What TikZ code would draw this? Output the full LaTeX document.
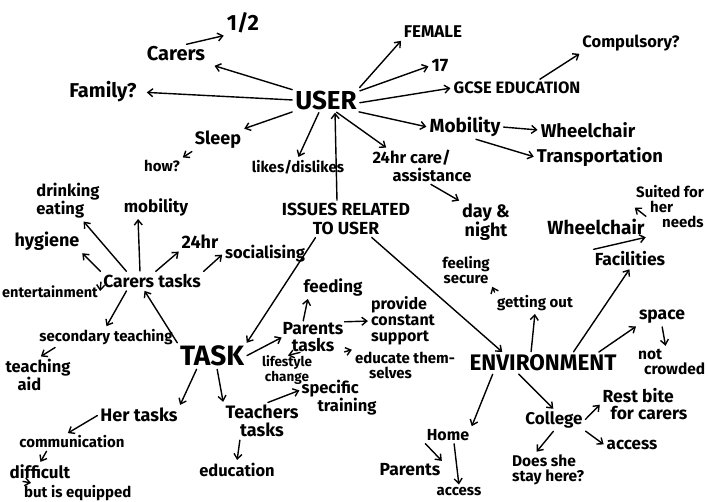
\documentclass[tikz,border=0pt]{standalone}
\usepackage{fontspec}
\setmainfont{Fira Sans}
\usetikzlibrary{arrows.meta}
\tikzset{
  t/.style={font={\fontsize{#1}{#1}\selectfont\bfseries}, inner sep=2pt, align=center},
  arr/.style={-{Straight Barb[length=5pt,width=8pt]}, line width=1.4pt, line cap=round, shorten >=1pt, shorten <=1pt},
}
\begin{document}
\begin{tikzpicture}[x=1pt,y=-1pt]
\useasboundingbox (0,0) rectangle (709,501);

% ---------- USER and its attributes ----------
\node[t=26] (user) at (326,100) {USER};
\node[t=22] (half) at (243,23) {1/2};
\node[t=20] (carers) at (176,54) {Carers};
\node[t=20] (family) at (103,92) {Family?};
\node[t=17] (female) at (433,32) {FEMALE};
\node[t=18] (seventeen) at (440,66) {17};
\node[t=16.5] (gcse) at (517,88) {GCSE EDUCATION};
\node[t=16.5] (comp) at (631,43) {Compulsory?};
\node[t=19] (mob) at (465,127) {Mobility};
\node[t=18.5] (wheelA) at (588,130) {Wheelchair};
\node[t=18.5] (transp) at (600,157) {Transportation};
\node[t=18] (sleep) at (218,140) {Sleep};
\node[t=15] (how) at (162,166) {how?};
\node[t=15] (likes) at (298,167) {likes/dislikes};
\node[t=16.5, align=left] (care) at (422,166) {24hr care/\\[1pt]\hspace{20pt}assistance};
\node[t=18] (daynight) at (486,222) {day \&\\night};
\node[t=17.5] (issues) at (346,219) {ISSUES RELATED\\[1pt]TO USER};

% ---------- TASK branch ----------
\node[t=28] (task) at (212,356) {TASK};
\node[t=17.5] (ctasks) at (152,281) {Carers tasks};
\node[t=16.5, align=left] (drink) at (68,201) {drinking\\eating};
\node[t=17] (mobil) at (156,207) {mobility};
\node[t=18] (hyg) at (47,241) {hygiene};
\node[t=18] (hr) at (200,242) {24hr};
\node[t=16.5] (social) at (265,254) {socialising};
\node[t=14.5] (entert) at (50,292) {entertainment};
\node[t=15] (secteach) at (106,337) {secondary teaching};
\node[t=16.5, align=left] (teachaid) at (38,375) {teaching\\\hspace{12pt}aid};
\node[t=17.5, inner sep=0pt] (ptasks) at (313,337) {Parents\\tasks};
\node[t=17] (feed) at (333,287) {feeding};
\node[t=16, align=left] (provide) at (403,321) {provide\\constant\\support};
\node[t=15, align=left] (educate) at (405,365) {educate them-\\\hspace{14pt}selves};
\node[font={\fontsize{13.5}{12.5}\selectfont\bfseries}, align=center, inner sep=0pt] (life) at (287,370) {lifestyle\\change};
\node[t=16.5, align=left, inner sep=1pt] (spec) at (339,398) {specific\\\hspace{16pt}training};
\node[t=18] (her) at (139,415) {Her tasks};
\node[t=18] (teachers) at (262,421) {Teachers\\tasks};
\node[t=15] (comm) at (72,442) {communication};
\node[t=17] (diff) at (40,472) {difficult};
\node[t=15, anchor=west] (equip) at (22,493) {but is equipped};
\node[t=16.5] (edu) at (237,470) {education};

% ---------- ENVIRONMENT branch ----------
\node[t=22.5] (env) at (543,363) {ENVIRONMENT};
\node[t=15] (feel) at (466,270) {feeling\\secure};
\node[t=15] (getout) at (535,303) {getting out};
\node[t=19] (wheelB) at (596,227) {Wheelchair};
\node[t=15, align=left, anchor=west] (suited) at (634,207) {Suited for\\\hspace{14pt}her\\\hspace{26pt}needs};
\node[t=17.5] (facil) at (630,259) {Facilities};
\node[t=17.5] (space) at (662,317) {space};
\node[t=15.5, align=left, anchor=west] (notcr) at (636,362) {not\\\hspace{6pt}crowded};
\node[t=16] (home) at (448,435) {Home};
\node[t=17.5] (parentsB) at (410,470) {Parents};
\node[t=15] (accessA) at (459,492) {access};
\node[t=17] (college) at (554,420) {College};
\node[t=17.5, align=left] (rest) at (645,404) {Rest bite\\\hspace{8pt}for carers};
\node[t=17] (accessB) at (632,445) {access};
\node[t=15.5, align=left] (does) at (548,470) {Does she\\stay here?};

% ---------- connectors ----------
\draw[arr] (carers.45) -- (half.south west);
\draw[arr, shorten >=8pt] (user) -- (carers);
\draw[arr, shorten >=8pt] (user.west) -- (family.east);
\draw[arr] (user.south west) -- (sleep.north east);
\draw[arr] (sleep.south west) -- (how.north east);
\draw[arr] (user.-120) -- (likes.north);
\draw[arr] ([xshift=-9pt]issues.north) -- ([xshift=9pt]user.south);
\draw[arr] (user.north east) -- (female.south west);
\draw[arr] (user.15) -- (seventeen.west);
\draw[arr] (user.-5) -- (gcse.west);
\draw[arr] ([xshift=22pt]gcse.north) -- (comp.south west);
\draw[arr] (user.-20) -- (mob.west);
\draw[arr] (user.-50) -- ([xshift=-35pt]care.north);
\draw[arr] (mob.east) -- (wheelA.west);
\draw[arr] ([xshift=10pt]mob.south) -- (transp.west);
\draw[arr] ([xshift=8pt]care.south) -- (daynight.north west);

\draw[arr] ([xshift=-30pt]issues.south) -- (task.north east);
\draw[arr] ([xshift=25pt]issues.south) -- ([xshift=-40pt]env.north);

\draw[arr] (task.north west) -- ([xshift=-8pt]ctasks.south);
\draw[arr] ([xshift=-25pt]ctasks.north) -- ([xshift=15pt]drink.south);
\draw[arr] ([xshift=-12pt]ctasks.north) -- ([xshift=-18pt]mobil.south);
\draw[arr] (ctasks.north west) -- (hyg.south east);
\draw[arr] ([xshift=3pt]ctasks.north) -- (hr.south west);
\draw[arr] (ctasks.north east) -- (social.west);
\draw[arr] (ctasks.west) -- (entert.east);
\draw[arr] ([xshift=-25pt]ctasks.south) -- (secteach.north);
\draw[arr] ([xshift=-50pt]secteach.south) -- ([xshift=2pt]teachaid.north);

\draw[arr] (task.east) -- (ptasks.west);
\draw[arr] ([xshift=-10pt]ptasks.north) -- ([xshift=-25pt]feed.south);
\draw[arr] (ptasks.north east) -- (provide.west);
\draw[arr] (ptasks.south east) -- (educate.north west);
\draw[arr] ([xshift=-12pt]ptasks.south) -- (life.north);
\draw[arr] ([xshift=-15pt]task.south) -- (her.north east);
\draw[arr] ([xshift=5pt]task.south) -- (teachers.north west);
\draw[arr] ([xshift=5pt]teachers.north) -- ([yshift=8pt]spec.west);
\draw[arr] ([xshift=-22pt]teachers.south) -- (edu.north);
\draw[arr] (her.west) -- ([xshift=-5pt]comm.north);
\draw[arr] ([xshift=-25pt]comm.south) -- (diff.north);
\draw[arr] ([xshift=-18pt]diff.south) -- ([xshift=10pt]equip.north west);

\draw[arr] ([xshift=-12pt]env.north) -- (getout.south);
\draw[arr] (getout.north west) -- (feel.south east);
\draw[arr] ([xshift=30pt]env.north) -- (facil.south);
\draw[arr] (facil.north west) -- (wheelB.south east);
\draw[arr] (wheelB.north east) -- (suited.west);
\draw[arr] ([xshift=55pt]env.north) -- (space.south west);
\draw[arr] (space.south) -- ([xshift=-6pt]notcr.north);
\draw[arr] ([xshift=-50pt]env.south) -- (home.north east);
\draw[arr] ([xshift=-25pt]env.south) -- (college.north);
\draw[arr] (college.east) -- (rest.west);
\draw[arr] (college.south east) -- (accessB.west);
\draw[arr] (college.south) -- ([xshift=-12pt]does.north);
\draw[arr] (home.south west) -- (parentsB.north east);
\draw[arr] ([xshift=6pt]home.south) -- (accessA.north);
\end{tikzpicture}
\end{document}
